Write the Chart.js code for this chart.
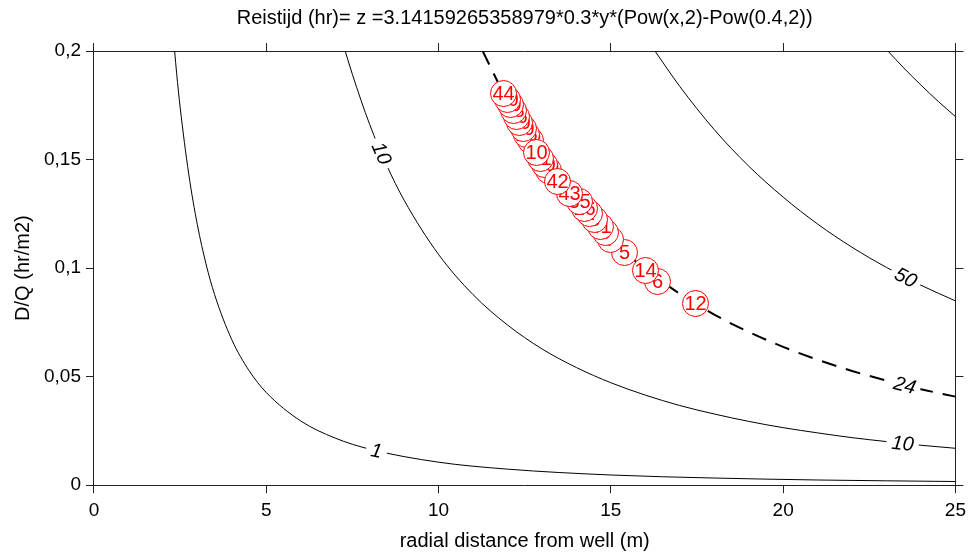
<!DOCTYPE html>
<html>
<head>
<meta charset="utf-8">
<script src="https://cdn.jsdelivr.net/npm/chart.js@4.4.1/dist/chart.umd.min.js"></script>
<style>
  html, body { margin: 0; padding: 0; background: #fff; }
  #wrap { width: 972px; height: 553px; }
</style>
</head>
<body>
<div id="wrap"><canvas id="contour"></canvas></div>
<script>
const chartTitle = 'Reistijd (hr)= z =3.14159265358979*0.3*y*(Pow(x,2)-Pow(0.4,2))';

// axis ticks
const xTicks = [0, 5, 10, 15, 20, 25];
const xTickLabels = ['0', '5', '10', '15', '20', '25'];
const yTicks = [0, 0.05, 0.1, 0.15, 0.2];
const yTickLabels = ['0', '0,05', '0,1', '0,15', '0,2'];

// contour lines
const c1X = [2.34, 2.4, 2.5, 2.75, 3, 3.25, 3.5, 4, 4.5, 5, 6, 7, 8, 10, 12, 15, 18, 21, 25];
const c1Y = [0.2, 0.1895, 0.1742, 0.1433, 0.12, 0.102, 0.0878, 0.067, 0.0528, 0.0427, 0.0296, 0.0217, 0.0166, 0.0106, 0.0074, 0.0047, 0.0033, 0.0024, 0.0017];
const c10X = [7.29, 7.5, 8, 8.5, 9, 10, 11, 12, 13, 14, 15, 16, 17, 18, 19, 20, 21, 22, 23, 24, 25];
const c10Y = [0.2, 0.1892, 0.1662, 0.1472, 0.1313, 0.1063, 0.0878, 0.0738, 0.0628, 0.0542, 0.0472, 0.0415, 0.0367, 0.0328, 0.0294, 0.0265, 0.0241, 0.0219, 0.0201, 0.0184, 0.017];
const c24X = [11.28, 11.5, 12, 13, 14, 15, 16, 17, 18, 19, 20, 21, 22, 23, 24, 25];
const c24Y = [0.2, 0.1928, 0.177, 0.1508, 0.13, 0.1133, 0.0995, 0.0882, 0.0786, 0.0706, 0.0637, 0.0578, 0.0526, 0.0482, 0.0442, 0.0408];
const c50X = [16.28, 17, 18, 19, 20, 21, 22, 23, 24, 25];
const c50Y = [0.2, 0.1837, 0.1638, 0.147, 0.1327, 0.1203, 0.1096, 0.1003, 0.0921, 0.0849];
const c100X = [23.04, 23.5, 24, 24.5, 25];
const c100Y = [0.2, 0.1922, 0.1843, 0.1768, 0.1698];

// measured points, in drawing order
const markerX = [17.43, 16.33, 16.0, 15.38, 14.97, 14.83, 14.68, 14.51, 14.36, 14.22, 14.08, 13.79, 13.18, 13.06, 13.44, 12.95, 12.66, 12.54, 12.83, 12.46, 12.34, 12.25, 12.17, 12.08, 12.00, 11.88];
const markerY = [0.0841, 0.0942, 0.0993, 0.1072, 0.1136, 0.1164, 0.1192, 0.1224, 0.1252, 0.1279, 0.1307, 0.1344, 0.145, 0.1478, 0.14, 0.1506, 0.1589, 0.1617, 0.1533, 0.1644, 0.1672, 0.17, 0.1727, 0.1755, 0.1778, 0.1806];
const markerLabels = ['12', '6', '14', '5', '7', '9', '41', '8', '2', '16', '35', '43', '18', '20', '42', '21', '33', '26', '10', '29', '30', '36', '38', '39', '40', '44'];

// where the contour values are written
const contourLabels = [
  { line: 'z1', x: 8.2, text: '1' },
  { line: 'z10', x: 8.35, text: '10' },
  { line: 'z10', x: 23.47, text: '10' },
  { line: 'z24', x: 23.53, text: '24' },
  { line: 'z50', x: 23.56, text: '50' }
];

const toPoints = (xs, ys) => xs.map((x, i) => ({ x: x, y: ys[i] }));

function contourLine(label, xs, ys, dashed) {
  return {
    type: 'line',
    label: label,
    data: toPoints(xs, ys),
    borderColor: '#000',
    borderWidth: dashed ? 2 : 1,
    borderDash: dashed ? [15, 10] : [],
    pointRadius: 0,
    fill: false,
    cubicInterpolationMode: 'monotone'
  };
}

// each point: white circle with red outline and its number, one after another
const markerPlugin = {
  id: 'numberedMarkers',
  afterDatasetsDraw(chart) {
    const idx = chart.data.datasets.findIndex(d => d.label === 'points');
    const meta = chart.getDatasetMeta(idx);
    const ctx = chart.ctx;
    ctx.save();
    ctx.font = '20px Arial';
    ctx.textAlign = 'center';
    ctx.textBaseline = 'middle';
    ctx.lineWidth = 1;
    meta.data.forEach((el, i) => {
      const x = Math.round(el.x) + 0.5, y = Math.round(el.y) + 0.5;
      ctx.beginPath();
      ctx.arc(x, y, 13, 0, Math.PI * 2);
      ctx.fillStyle = '#fff';
      ctx.fill();
      ctx.strokeStyle = '#ff0000';
      ctx.stroke();
      ctx.fillStyle = '#ff0000';
      ctx.fillText(markerLabels[i], x, y + 1);
    });
    ctx.restore();
  }
};

const contourLabelPlugin = {
  id: 'contourLabels',
  afterDatasetsDraw(chart) {
    const ctx = chart.ctx;
    const xs = chart.scales.x;
    const ys = chart.scales.y;
    contourLabels.forEach(lab => {
      const ds = chart.data.datasets.find(d => d.label === lab.line);
      const pts = ds.data;
      let i = 0;
      while (i < pts.length - 2 && pts[i + 1].x < lab.x) i++;
      const a = pts[i], b = pts[i + 1];
      const t = (lab.x - a.x) / (b.x - a.x);
      const px = xs.getPixelForValue(lab.x);
      const py = ys.getPixelForValue(a.y + t * (b.y - a.y));
      const ang = Math.atan2(ys.getPixelForValue(b.y) - ys.getPixelForValue(a.y),
                             xs.getPixelForValue(b.x) - xs.getPixelForValue(a.x));
      ctx.save();
      ctx.translate(px, py);
      ctx.rotate(ang);
      ctx.font = 'italic 20px Arial';
      const w = ctx.measureText(lab.text).width;
      ctx.fillStyle = '#fff';
      ctx.fillRect(-w / 2 - 5, -8, w + 10, 16);
      ctx.fillStyle = '#000';
      ctx.textAlign = 'center';
      ctx.textBaseline = 'middle';
      ctx.fillText(lab.text, 0, 1);
      ctx.restore();
    });
  }
};

// title centred over the plot area, not the whole canvas
const plotTitlePlugin = {
  id: 'plotTitle',
  afterDraw(chart) {
    const ctx = chart.ctx;
    const area = chart.chartArea;
    ctx.save();
    ctx.font = '20px Arial';
    ctx.fillStyle = '#000';
    ctx.textAlign = 'center';
    ctx.textBaseline = 'middle';
    ctx.fillText(chartTitle, (area.left + area.right) / 2, 18);
    ctx.restore();
  }
};

Chart.defaults.font.family = 'Arial, "Liberation Sans", sans-serif';
Chart.defaults.color = '#000';

const axisLine = { color: '#222', width: 1 };
const tickGrid = { drawOnChartArea: false, drawTicks: true, tickLength: 8, color: '#222' };

new Chart(document.getElementById('contour'), {
  data: {
    datasets: [
      {
        type: 'scatter',
        label: 'points',
        data: toPoints(markerX, markerY),
        pointRadius: 0
      },
      contourLine('z1', c1X, c1Y, false),
      contourLine('z10', c10X, c10Y, false),
      contourLine('z24', c24X, c24Y, true),
      contourLine('z50', c50X, c50Y, false),
      contourLine('z100', c100X, c100Y, false)
    ]
  },
  options: {
    responsive: true,
    maintainAspectRatio: false,
    animation: false,
    events: [],
    layout: { padding: { left: 0, right: 4, top: 43, bottom: 0 } },
    plugins: {
      legend: { display: false },
      tooltip: { enabled: false },
      title: { display: false }
    },
    scales: {
      x: {
        type: 'linear',
        position: 'bottom',
        min: 0,
        max: 25,
        afterBuildTicks: axis => { axis.ticks = xTicks.map(v => ({ value: v })); },
        ticks: { callback: (v, i) => xTickLabels[i], font: { size: 19 }, padding: 6, maxRotation: 0 },
        grid: tickGrid,
        border: axisLine,
        title: { display: true, text: 'radial distance from well (m)', font: { size: 20 }, padding: { top: 1, bottom: 0 } }
      },
      xTop: {
        type: 'linear',
        position: 'top',
        min: 0,
        max: 25,
        afterBuildTicks: axis => { axis.ticks = xTicks.map(v => ({ value: v })); },
        ticks: { display: false },
        grid: tickGrid,
        border: axisLine
      },
      y: {
        type: 'linear',
        position: 'left',
        min: 0,
        max: 0.2,
        afterBuildTicks: axis => { axis.ticks = yTicks.map(v => ({ value: v })); },
        ticks: { callback: (v, i) => yTickLabels[i], font: { size: 19 }, padding: 5 },
        grid: tickGrid,
        border: axisLine,
        title: { display: true, text: 'D/Q (hr/m2)', font: { size: 20 }, padding: { top: 11, bottom: 4 } }
      },
      yRight: {
        type: 'linear',
        position: 'right',
        min: 0,
        max: 0.2,
        afterBuildTicks: axis => { axis.ticks = yTicks.map(v => ({ value: v })); },
        ticks: { display: false },
        grid: tickGrid,
        border: axisLine
      }
    }
  },
  plugins: [contourLabelPlugin, markerPlugin, plotTitlePlugin]
});
</script>
</body>
</html>
